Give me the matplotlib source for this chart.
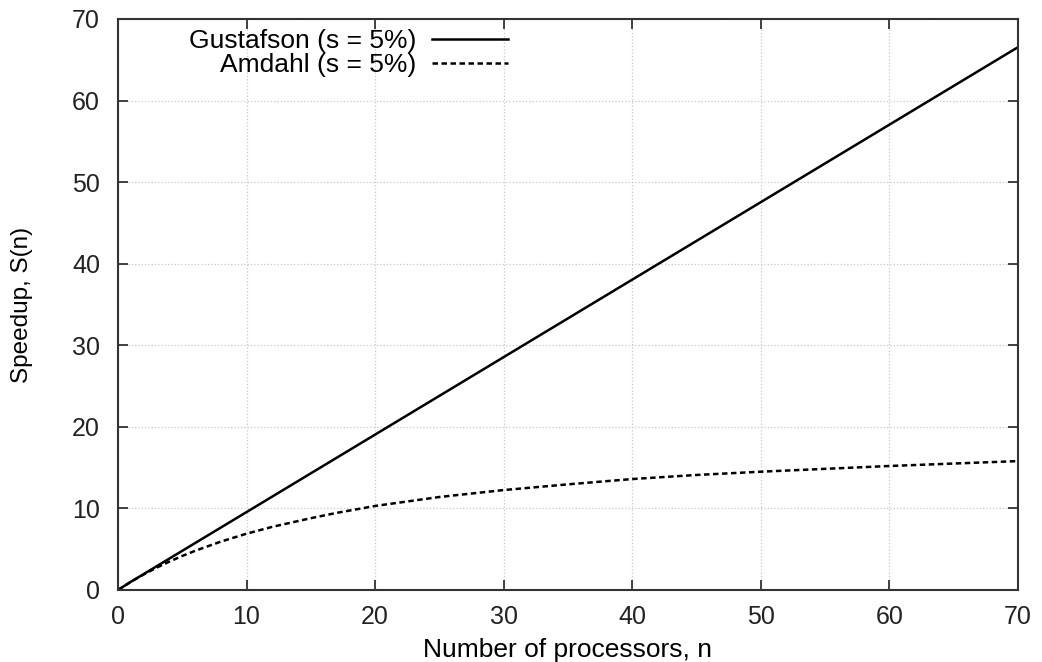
import matplotlib.pyplot as plt
from matplotlib.lines import Line2D

plt.rcParams['font.family'] = ['Liberation Sans', 'DejaVu Sans']

# values
n_procs = [0, 1, 2, 3, 4, 5, 6, 8, 10, 12, 15, 17, 20, 25, 30, 35, 40, 45, 50, 60, 70]
gustafson = [0, 1.0, 1.95, 2.9, 3.85, 4.8, 5.75, 7.65, 9.55, 11.45, 14.3, 16.2, 19.05,
             23.8, 28.55, 33.3, 38.05, 42.8, 47.55, 57.05, 66.55]
amdahl = [0, 1.0, 1.9, 2.73, 3.48, 4.17, 4.8, 5.93, 6.9, 7.74, 8.8, 9.45, 10.3,
          11.4, 12.25, 12.95, 13.6, 14.1, 14.5, 15.2, 15.8]

x_ticks = [0, 10, 20, 30, 40, 50, 60, 70]
y_ticks = [0, 10, 20, 30, 40, 50, 60, 70]

fig = plt.figure(figsize=(10.42, 6.62), dpi=100)
ax = fig.add_axes([0.1132, 0.1088, 0.8638, 0.8625])

ax.plot(n_procs, gustafson, color='black', lw=1.8, ls='-')
ax.plot(n_procs, amdahl, color='black', lw=1.8, ls=(0, (2.2, 1.4)))

ax.set_xlim(0, 70)
ax.set_ylim(0, 70)
ax.set_xticks(x_ticks)
ax.set_yticks(y_ticks)
ax.tick_params(direction='in', top=True, right=True, length=7, width=1.2,
               labelsize=18, colors='#222222')
ax.tick_params(axis='x', pad=11)
ax.tick_params(axis='y', pad=13)
ax.grid(True, color='#c8c8c8', ls=':', lw=0.9)
for sp in ax.spines.values():
    sp.set_linewidth(1.5)
    sp.set_color('#333333')

ax.set_xlabel('Number of processors, n', fontsize=19, labelpad=6)
ax.set_ylabel('Speedup, S(n)', fontsize=17.5)
ax.yaxis.set_label_coords(-0.094, 0.5)

# gnuplot-style key, text right-aligned left of the sample line
handles = [Line2D([], [], color='black', lw=1.8, ls='-'),
           Line2D([], [], color='black', lw=1.8, ls=(0, (2.2, 1.4)))]
labels = ['Gustafson (s = 5%)', 'Amdahl (s = 5%)']
leg = ax.legend(handles, labels, loc='upper right', bbox_to_anchor=(0.433, 0.982),
                frameon=False, fontsize=19, markerfirst=False, handlelength=2.85,
                labelspacing=0.0, handletextpad=0.62, borderaxespad=0, borderpad=0)
for t in leg.get_texts():
    t.set_ha('right')
leg._legend_box.align = 'right'

fig.savefig('out.png', dpi=100)
